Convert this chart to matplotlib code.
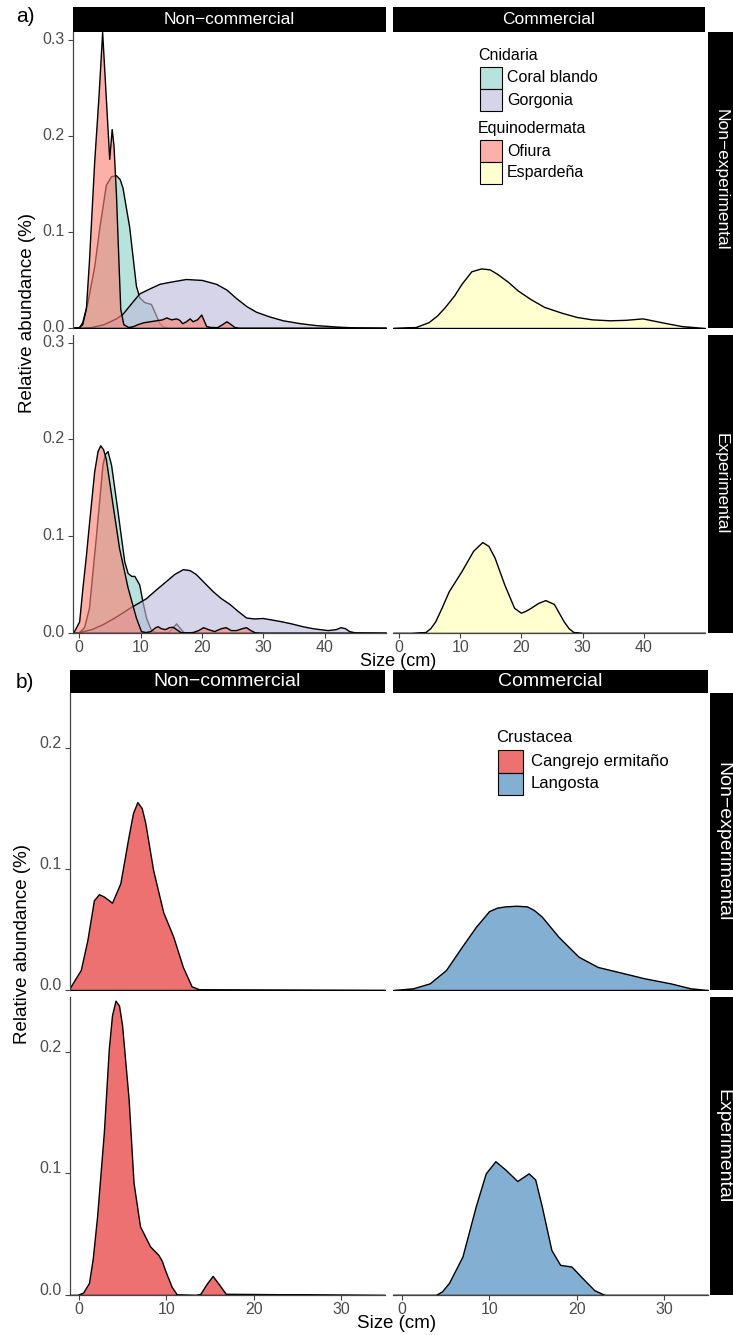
import numpy as np
import matplotlib.pyplot as plt
import matplotlib.transforms as mtransforms
from matplotlib.patches import Rectangle

plt.rcParams['font.family'] = ['Liberation Sans', 'DejaVu Sans']

W, H = 733, 1335

# ---------------- a) size (cm) vs relative abundance
a_coral_ne_x = [-1, 0, 0.5, 1.35, 2.45, 3.3, 4.35, 5.2, 6.0, 6.6, 7.07, 8.16, 9.25, 9.8, 10.6, 11.7, 12.4, 13.0, 13.6, 14.5, 50]
a_coral_ne_y = [0, 0.001, 0.006, 0.027, 0.064, 0.105, 0.149, 0.158, 0.159, 0.155, 0.146, 0.105, 0.044, 0.032, 0.027, 0.025, 0.015, 0.006, 0.002, 0, 0]
a_gorg_ne_x = [-1, 0, 2, 4, 6, 7.1, 8.5, 9.8, 11.4, 13.1, 14.7, 17.4, 20, 22.3, 24, 25.6, 27.2, 28.8, 31, 33.2, 36, 38.6, 42, 45, 50]
a_gorg_ne_y = [0, 0, 0.001, 0.004, 0.01, 0.015, 0.026, 0.036, 0.041, 0.046, 0.048, 0.051, 0.050, 0.046, 0.04, 0.031, 0.023, 0.017, 0.012, 0.008, 0.005, 0.003, 0.0015, 0.0005, 0]
a_ofi_ne_x = [-1, 0, 0.5, 1.1, 1.6, 2.45, 3.15, 3.75, 4.3, 4.9, 5.3, 5.6, 6.0, 6.4, 6.7, 7.2, 8.0, 8.8, 9.5, 10.5, 11.5, 12.5, 13.5, 14.2, 15.0,
              15.8, 16.3, 16.8, 17.4, 18.0, 18.5, 19.2, 19.9, 20.7, 21.5, 22.5, 23.3, 24.0, 24.7, 25.3, 26.0, 50]
a_ofi_ne_y = [0, 0.001, 0.004, 0.02, 0.07, 0.173, 0.241, 0.308, 0.245, 0.176, 0.207, 0.19, 0.139, 0.07, 0.02, 0.004, 0.001, 0.002, 0.004, 0.006, 0.007, 0.008, 0.009, 0.011, 0.009,
              0.010, 0.0086, 0.005, 0.007, 0.010, 0.007, 0.009, 0.014, 0.002, 0.001, 0.001, 0.004, 0.007, 0.004, 0.001, 0, 0]
a_esp_ne_x = [-1, 1, 2.7, 4.8, 6.2, 7.5, 9, 10.2, 11.8, 13.4, 14.8, 16.1, 17.8, 19.4, 21.5, 23.7, 26.5, 29, 31.5, 34.4, 37, 39.8, 42.5, 44.5, 46.2, 50]
a_esp_ne_y = [0, 0.0005, 0.001, 0.006, 0.013, 0.022, 0.034, 0.046, 0.059, 0.062, 0.061, 0.056, 0.048, 0.039, 0.030, 0.022, 0.016, 0.0115, 0.009, 0.008, 0.0085, 0.010, 0.0065, 0.004, 0.002, 0]

a_coral_e_x = [-1, 0, 0.8, 1.6, 2.7, 3.8, 4.2, 4.62, 5.2, 6.25, 7.35, 7.9, 8.5, 9.0, 9.8, 10.3, 10.9, 11.7, 12.5, 14.5, 15.3, 15.8, 16.3, 17, 18, 50]
a_coral_e_y = [0, 0.001, 0.006, 0.026, 0.098, 0.174, 0.185, 0.188, 0.174, 0.126, 0.074, 0.062, 0.059, 0.059, 0.05, 0.033, 0.016, 0.003, 0.001, 0.001, 0.006, 0.01, 0.006, 0.001, 0, 0]
a_gorg_e_x = [-1, 0, 2, 3.8, 6, 8.2, 10.9, 12.5, 14.2, 15.5, 16.9, 18, 19, 20.4, 21.8, 23.1, 24.5, 25.8, 27.2, 28.5, 29.9, 31.3, 32.7, 34.5, 36.4,
              38, 39.2, 40.5, 41.8, 42.6, 43.3, 44, 45, 50]
a_gorg_e_y = [0, 0.001, 0.004, 0.009, 0.017, 0.026, 0.036, 0.045, 0.054, 0.061, 0.066, 0.065, 0.061, 0.052, 0.043, 0.036, 0.030, 0.023, 0.016, 0.015, 0.0155, 0.014, 0.0124, 0.01, 0.007,
              0.005, 0.004, 0.003, 0.004, 0.006, 0.005, 0.002, 0.0005, 0]
a_ofi_e_x = [-1, 0, 0.54, 1.1, 1.63, 2.45, 3.0, 3.43, 3.9, 4.35, 5.44, 6.5, 7.9, 9.25, 10.07, 10.8, 11.6, 12.4, 12.8, 13.3, 14, 14.6, 15.2, 15.8, 16.5,
             17.5, 18.5, 19.4, 20.2, 21, 22, 23.1, 23.9, 24.7, 25.6, 26.5, 27.2, 27.9, 28.7, 30, 50]
a_ofi_e_y = [0, 0.012, 0.047, 0.08, 0.115, 0.167, 0.188, 0.194, 0.19, 0.18, 0.133, 0.088, 0.047, 0.016, 0.002, 0.001, 0.002, 0.006, 0.007, 0.005, 0.004, 0.006, 0.0065, 0.004, 0.001,
             0.0005, 0.001, 0.003, 0.006, 0.004, 0.002, 0.005, 0.006, 0.003, 0.003, 0.005, 0.006, 0.003, 0.0005, 0, 0]
a_esp_e_x = [-1, 2, 4.3, 5.1, 5.9, 7, 8.1, 10.2, 12.1, 13.6, 14.6, 15.6, 17.2, 18.8, 19.9, 20.7, 21.5, 22.7, 23.9, 25.3, 26.1, 26.9, 27.7, 28.5, 30, 50]
a_esp_e_y = [0, 0, 0.001, 0.005, 0.012, 0.027, 0.043, 0.064, 0.085, 0.094, 0.09, 0.078, 0.05, 0.026, 0.021, 0.023, 0.026, 0.031, 0.034, 0.03, 0.021, 0.012, 0.005, 0.001, 0, 0]

# ---------------- b)
b_cang_ne_x = [-1, 0.23, 0.98, 1.73, 2.3, 2.9, 3.8, 4.75, 5.7, 6.2, 6.7, 7.2, 7.6, 8.5, 9.66, 10.8, 11.9, 12.9, 13.8, 35]
b_cang_ne_y = [0.002, 0.0165, 0.041, 0.074, 0.079, 0.077, 0.072, 0.088, 0.127, 0.146, 0.155, 0.15, 0.138, 0.099, 0.064, 0.044, 0.019, 0.003, 0.0005, 0]
b_lang_ne_x = [-1, 1.3, 3.2, 5.06, 6.9, 8.46, 9.97, 10.9, 11.86, 13.1, 14.3, 15.1, 16, 17.9, 20.2, 22.4, 24.7, 27.7, 30.7, 33, 35]
b_lang_ne_y = [0, 0.0014, 0.0055, 0.0165, 0.036, 0.052, 0.065, 0.068, 0.069, 0.0695, 0.069, 0.066, 0.0606, 0.044, 0.0275, 0.019, 0.015, 0.0097, 0.0055, 0.0014, 0]
b_cang_e_x = [-1, -0.15, 0.5, 1.17, 1.6, 2.1, 2.87, 3.43, 3.8, 4.2, 4.6, 4.95, 5.7, 6.26, 7.0, 8.15, 9.1, 9.5, 9.85, 10.6, 11.2, 13.4, 13.9, 14.6,
              15.3, 16.0, 16.8, 35]
b_cang_e_y = [0, 0, 0.002, 0.01, 0.03, 0.065, 0.134, 0.202, 0.23, 0.242, 0.238, 0.222, 0.161, 0.0925, 0.0565, 0.04, 0.033, 0.028, 0.0207, 0.007, 0.0005, 0, 0.001, 0.009,
              0.0157, 0.009, 0.001, 0]
b_lang_e_x = [-1, 3.9, 4.6, 5.4, 6.94, 8.46, 9.6, 10.7, 11.86, 13.2, 14.5, 15.25, 16, 17.1, 18.1, 19.4, 20.5, 22, 23.2, 35]
b_lang_e_y = [0, 0, 0.003, 0.01, 0.0317, 0.073, 0.1, 0.11, 0.103, 0.0937, 0.1, 0.095, 0.073, 0.037, 0.0248, 0.0234, 0.015, 0.004, 0, 0]

columns = ['Non\u2212commercial', 'Commercial']
rows = ['Non\u2212experimental', 'Experimental']

a_groups = ['Cnidaria', 'Equinodermata']
a_species = [['Coral blando', 'Gorgonia'], ['Ofiura', 'Espardeña']]
a_colors = {'Coral blando': '#8DD3C7', 'Gorgonia': '#BEBADA', 'Ofiura': '#FB8072', 'Espardeña': '#FFFFB3'}
b_group = 'Crustacea'
b_species = ['Cangrejo ermitaño', 'Langosta']
b_colors = {'Cangrejo ermitaño': '#E41A1C', 'Langosta': '#377EB8'}
ALPHA = 0.62

a_x_ticks = [0, 10, 20, 30, 40]
a_y_ticks = [0.0, 0.1, 0.2, 0.3]
b_x_ticks = [0, 10, 20, 30]
b_y_ticks = [0.0, 0.1, 0.2]

# panel -> list of (species, x, y) in drawing order
a_panels = {
    (0, 0): [('Coral blando', a_coral_ne_x, a_coral_ne_y), ('Gorgonia', a_gorg_ne_x, a_gorg_ne_y), ('Ofiura', a_ofi_ne_x, a_ofi_ne_y)],
    (0, 1): [('Espardeña', a_esp_ne_x, a_esp_ne_y)],
    (1, 0): [('Coral blando', a_coral_e_x, a_coral_e_y), ('Gorgonia', a_gorg_e_x, a_gorg_e_y), ('Ofiura', a_ofi_e_x, a_ofi_e_y)],
    (1, 1): [('Espardeña', a_esp_e_x, a_esp_e_y)],
}
b_panels = {
    (0, 0): [('Cangrejo ermitaño', b_cang_ne_x, b_cang_ne_y)],
    (0, 1): [('Langosta', b_lang_ne_x, b_lang_ne_y)],
    (1, 0): [('Cangrejo ermitaño', b_cang_e_x, b_cang_e_y)],
    (1, 1): [('Langosta', b_lang_e_x, b_lang_e_y)],
}

fig = plt.figure(figsize=(W / 100, H / 100), dpi=100)


def px_axes(x0, y0, x1, y1):
    return fig.add_axes([x0 / W, 1 - y1 / H, (x1 - x0) / W, (y1 - y0) / H])


def strip(box, text, rot=0, size=13):
    s = px_axes(*box)
    s.set_facecolor('black')
    s.set_xticks([])
    s.set_yticks([])
    for sp in s.spines.values():
        sp.set_visible(False)
    s.text(0.5, 0.5, text, color='white', ha='center', va='center',
           rotation=rot, fontsize=size, transform=s.transAxes)


def facet(panels, colors, col_x, row_y, xlim, ylim, xticks, yticks,
          top_strip_y, right_strip_x, strip_size, label_lift=0):
    lift = mtransforms.ScaledTranslation(0, label_lift / 100, fig.dpi_scale_trans)
    for (r, c), layers in panels.items():
        x0, x1 = col_x[c]
        y0, y1 = row_y[r]
        ax = px_axes(x0, y0, x1, y1)
        for name, xs, ys in layers:
            rgb = plt.matplotlib.colors.to_rgb(colors[name])
            ax.fill_between(xs, ys, 0, facecolor=(*rgb, ALPHA),
                            edgecolor='black', linewidth=1.0)
        ax.set_xlim(xlim)
        ax.set_ylim(ylim)
        ax.patch.set_alpha(0)
        for s in ['top', 'right']:
            ax.spines[s].set_visible(False)
        ax.spines['left'].set_visible(c == 0)
        ax.spines['bottom'].set_visible(r == 1)
        for s in ['left', 'bottom']:
            ax.spines[s].set_color('#444444')
            ax.spines[s].set_linewidth(0.9)
        ax.tick_params(colors='#444444', labelcolor='#4D4D4D', labelsize=11.5,
                       length=3.5, width=0.8)
        if r == 1:
            ax.set_xticks(xticks)
            ax.tick_params(axis='x', pad=1.5)
        else:
            ax.set_xticks([])
        if c == 0:
            ax.set_yticks(yticks)
            ax.set_yticklabels([f'{v:.1f}' for v in yticks])
            ax.tick_params(axis='y', pad=2.5)
            for lab in ax.get_yticklabels():
                lab.set_transform(lab.get_transform() + lift)
        else:
            ax.set_yticks([])
    for c, lab in enumerate(columns):
        strip((col_x[c][0], top_strip_y[0], col_x[c][1], top_strip_y[1]), lab, size=strip_size)
    for r, lab in enumerate(rows):
        strip((right_strip_x[0], row_y[r][0], right_strip_x[1], row_y[r][1]), lab, rot=-90, size=strip_size)


facet(a_panels, a_colors, col_x=[(73, 386), (393, 705)], row_y=[(32, 328), (335, 633)],
      xlim=(-1, 50), ylim=(0, 0.308), xticks=a_x_ticks, yticks=a_y_ticks,
      top_strip_y=(7, 32), right_strip_x=(708, 735), strip_size=12.5, label_lift=2)
facet(b_panels, b_colors, col_x=[(70, 385), (393, 708)], row_y=[(693, 990), (997, 1295)],
      xlim=(-1, 35), ylim=(0, 0.245), xticks=b_x_ticks, yticks=b_y_ticks,
      top_strip_y=(670, 693), right_strip_x=(710, 735), strip_size=14, label_lift=6)

# overlay in pixel coordinates for labels and legends
ov = fig.add_axes([0, 0, 1, 1])
ov.set_xlim(0, W)
ov.set_ylim(H, 0)
ov.axis('off')
ov.patch.set_alpha(0)


def legend_block(x, y, title, names, colors, kw, kh, tx, size):
    ov.text(x, y, title, fontsize=size, ha='left', va='center')
    for i, n in enumerate(names):
        top = y + 12 + i * kh
        rgb = plt.matplotlib.colors.to_rgb(colors[n])
        ov.add_patch(Rectangle((x + 2, top), kw, kh, facecolor=(*rgb, ALPHA),
                               edgecolor='black', linewidth=0.8))
        ov.text(x + 2 + kw + tx, top + kh / 2, n, fontsize=size, ha='left', va='center')
    return y + 12 + len(names) * kh


nxt = legend_block(478, 55, a_groups[0], a_species[0], a_colors, 22, 22, 5, 11.5)
legend_block(478, nxt + 17, a_groups[1], a_species[1], a_colors, 22, 22, 5, 11.5)
legend_block(496, 738, b_group, b_species, b_colors, 25, 22.5, 8, 12)

ov.text(25, 16, 'a)', fontsize=15, ha='center', va='center')
ov.text(25, 682, 'b)', fontsize=15, ha='center', va='center')
ov.text(28, 313, 'Relative abundance (%)', fontsize=13.5, rotation=90, ha='center', va='center')
ov.text(23, 944, 'Relative abundance (%)', fontsize=13.5, rotation=90, ha='center', va='center')
ov.text(398, 661, 'Size (cm)', fontsize=13, ha='center', va='center')
ov.text(397, 1324, 'Size (cm)', fontsize=13.5, ha='center', va='center')

fig.savefig('out.png', dpi=100)
